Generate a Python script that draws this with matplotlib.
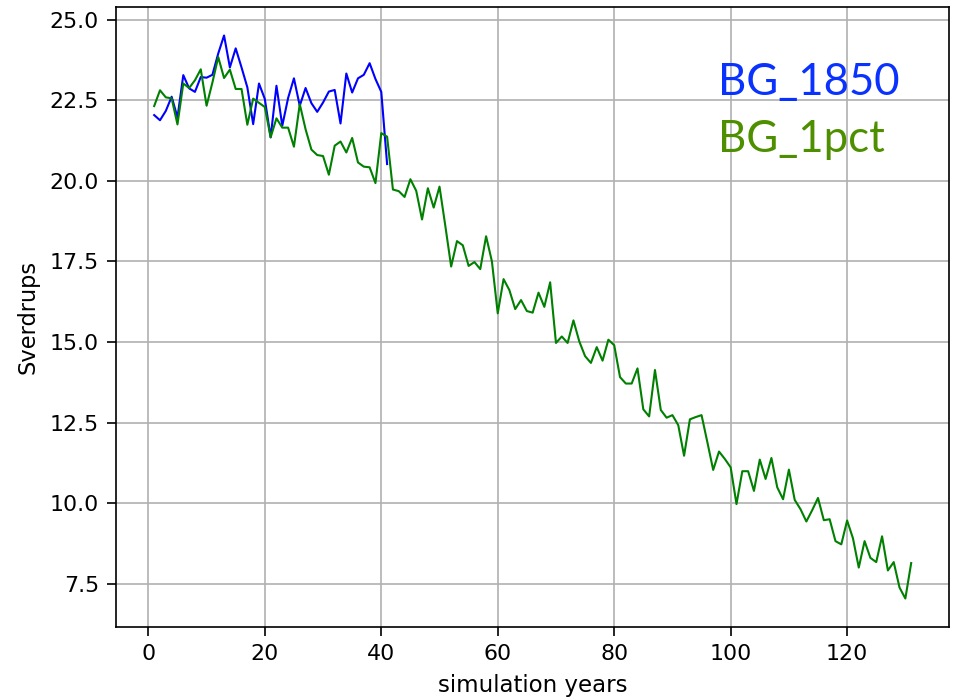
import numpy as np
import matplotlib
matplotlib.use("Agg")
import matplotlib.pyplot as plt

years_1850 = list(range(1, 42))
bg_1850 = [22.04, 21.88, 22.17, 22.61, 21.97, 23.28, 22.87, 22.76, 23.22, 23.20,
           23.29, 23.95, 24.51, 23.52, 24.11, 23.52, 22.90, 21.76, 23.02, 22.54,
           21.35, 22.95, 21.71, 22.57, 23.18, 22.33, 22.88, 22.41, 22.14, 22.43,
           22.77, 22.82, 21.78, 23.33, 22.74, 23.18, 23.29, 23.65, 23.16, 22.76,
           20.52]

years_1pct = list(range(1, 132))
bg_1pct = [22.32, 22.81, 22.59, 22.56, 21.75, 23.02, 22.88, 23.12, 23.46, 22.33,
           23.05, 23.84, 23.19, 23.45, 22.85, 22.85, 21.74, 22.55, 22.42, 22.29,
           21.35, 21.94, 21.65, 21.65, 21.06, 22.38, 21.60, 20.97, 20.80, 20.77,
           20.19, 21.09, 21.22, 20.88, 21.33, 20.57, 20.44, 20.42, 19.93, 21.48,
           21.37, 19.73, 19.68, 19.50, 20.05, 19.69, 18.80, 19.77, 19.17, 19.82,
           18.60, 17.34, 18.13, 18.00, 17.36, 17.48, 17.26, 18.28, 17.50, 15.89,
           16.95, 16.61, 16.02, 16.30, 15.96, 15.91, 16.53, 16.09, 16.85, 14.97,
           15.17, 14.97, 15.67, 15.02, 14.56, 14.35, 14.84, 14.42, 15.07, 14.90,
           13.91, 13.71, 13.71, 14.18, 12.91, 12.69, 14.13, 12.89, 12.65, 12.73,
           12.42, 11.47, 12.60, 12.67, 12.73, 11.89, 11.03, 11.60, 11.37, 11.11,
           9.97, 10.99, 10.99, 10.38, 11.35, 10.75, 11.40, 10.49, 10.12, 11.04,
           10.10, 9.81, 9.43, 9.78, 10.16, 9.47, 9.50, 8.82, 8.72, 9.46,
           8.91, 8.00, 8.82, 8.30, 8.17, 8.97, 7.91, 8.17, 7.38, 7.04,
           8.14]

labels = ["BG_1850", "BG_1pct"]
colors_text = ["#0a32ff", "#4e8f00"]

fig = plt.figure(figsize=(959 / 150, 698 / 150), dpi=150)
ax = fig.add_axes([0.1213, 0.1022, 0.8683, 0.8873])
ax.plot(years_1850, bg_1850, color="b", lw=1.0)
ax.plot(years_1pct, bg_1pct, color="g", lw=1.0)
ax.grid(True, color="#b0b0b0", lw=0.8)
ax.set_xlabel("simulation years", fontsize=11, labelpad=4.5)
ax.set_ylabel("Sverdrups", fontsize=10.8, labelpad=5)
ax.tick_params(labelsize=10.6, length=4.2, pad=4.2)

fig.text(718 / 959, 1 - 95 / 698, labels[0], color=colors_text[0],
         fontsize=21, family="Lato", ha="left", va="baseline")
fig.text(718 / 959, 1 - 151.7 / 698, labels[1], color=colors_text[1],
         fontsize=21, family="Lato", ha="left", va="baseline")

fig.savefig("out.png", dpi=150)
